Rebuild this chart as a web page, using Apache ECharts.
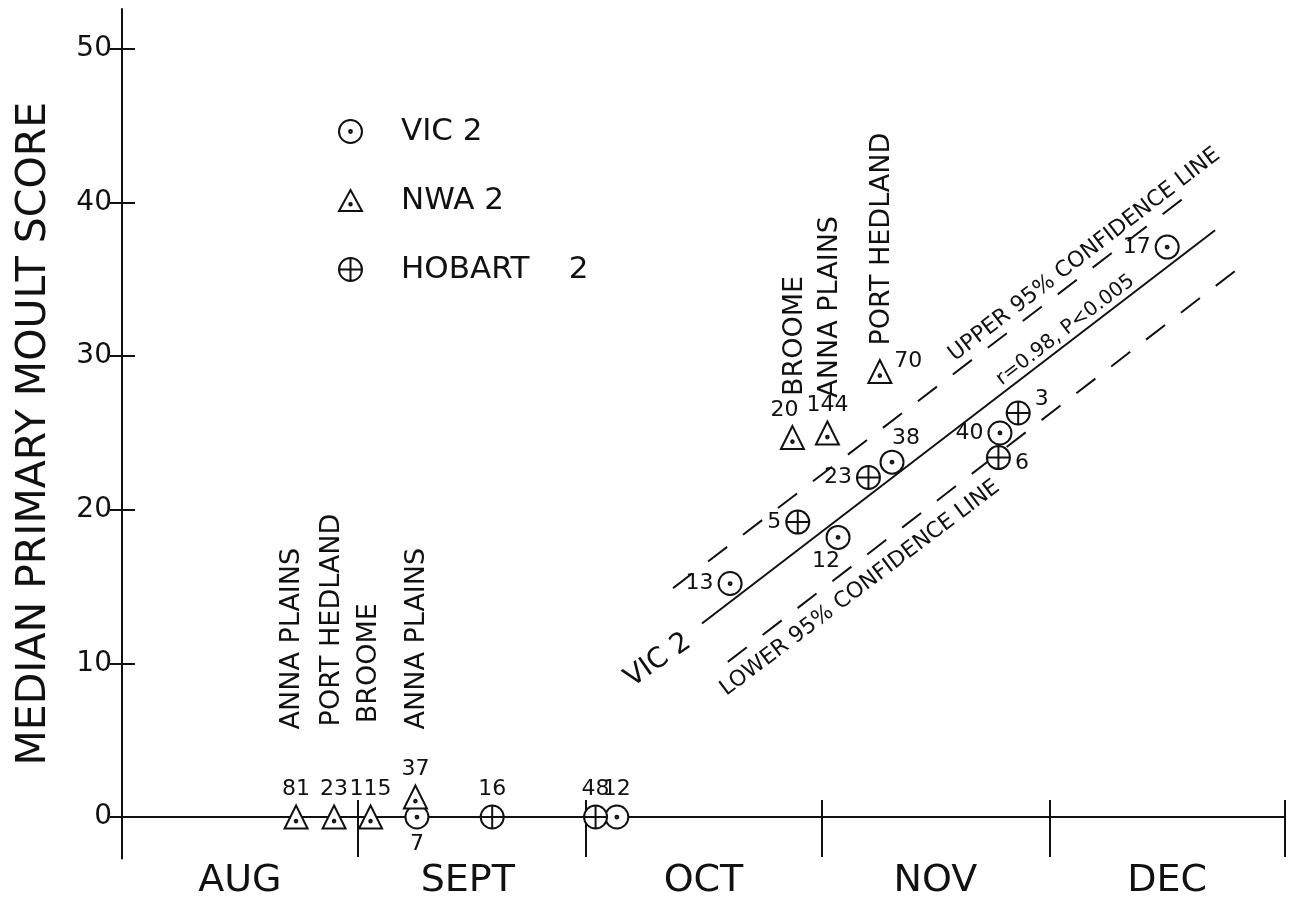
<!DOCTYPE html>
<html><head><meta charset="utf-8">
<script src="https://cdn.jsdelivr.net/npm/echarts@6/dist/echarts.min.js"></script>
<style>html,body{margin:0;padding:0;background:#fff}#c{width:1289px;height:905px}</style>
</head><body><div id="c"></div>
<script>
// ---- data (x = days since 1 August, y = median primary moult score) ----
const monthNames = ['AUG', 'SEPT', 'OCT', 'NOV', 'DEC'];
const monthStarts = [0, 31, 61, 92, 122, 153];
const monthMids = [15.5, 45.5, 76.5, 107, 137.5];
const yTicks = [0, 10, 20, 30, 40, 50];

// [day, score, sample size]
const vic2 = [[38.8, 0, 7], [65.1, 0, 12], [80.0, 15.2, 13], [94.2, 18.2, 12], [101.3, 23.1, 38], [115.5, 25.0, 40], [137.5, 37.1, 17]];
const nwa2 = [[22.9, 0, 81], [27.9, 0, 23], [32.7, 0, 115], [38.6, 1.3, 37], [88.2, 24.7, 20], [92.8, 25.0, 144], [99.7, 29.0, 70]];
const hobart2 = [[48.7, 0, 16], [62.3, 0, 48], [88.9, 19.2, 5], [98.2, 22.1, 23], [117.9, 26.3, 3], [115.3, 23.4, 6]];

const upper95 = [[72.5, 14.9], [140.5, 40.6]];
const fitLine = [[76.3, 12.6], [143.8, 38.2]];
const lower95 = [[79.7, 10.1], [147.1, 35.8]];

// locality names (anchor = bottom of vertical text)
const placeNames = [
  [22.4, 5.7, 'ANNA PLAINS'], [27.6, 5.9, 'PORT HEDLAND'], [32.5, 6.1, 'BROOME'], [38.8, 5.7, 'ANNA PLAINS'],
  [88.6, 27.4, 'BROOME'], [93.2, 27.3, 'ANNA PLAINS'], [100.0, 30.7, 'PORT HEDLAND']
];
// notes along the lines (anchor = centre of text)
const lineNotes = [
  [126.6, 36.6, 'UPPER 95% CONFIDENCE LINE'],
  [124.1, 31.7, 'r=0.98, P<0.005'],
  [70.5, 10.2, 'VIC 2'],
  [97.1, 14.9, 'LOWER 95% CONFIDENCE LINE']
];

// ---- styles ----
const FONT = 'DejaVu Sans';
const INK = '#111';
const lineNoteStyle = [{ size: 22, angle: 37.5 }, { size: 20, angle: 37.5 }, { size: 28, angle: 35 }, { size: 22, angle: 37 }];
const vicLabelStyle = [{ position: 'bottom' }, { position: 'top' }, { position: 'left' }, { position: 'bottom', offset: [-12, -4] }, { position: 'top', offset: [14, 4] }, { position: 'left' }, { position: 'left' }];
const nwaLabelStyle = [{ position: 'top' }, { position: 'top' }, { position: 'top' }, { position: 'top' }, { position: 'top', offset: [-8, 0] }, { position: 'top' }, { position: 'right', offset: [-2, -10] }];
const hobLabelStyle = [{ position: 'top' }, { position: 'top' }, { position: 'left' }, { position: 'left' }, { position: 'right', offset: [0, -14] }, { position: 'right', offset: [0, 6] }];

const circleP = 'M2,12A10,10 0 1,1 22,12A10,10 0 1,1 2,12Z';
const dotAt = (cx, cy) => `M${cx - 1.2},${cy}A1.2,1.2 0 1,1 ${cx + 1.2},${cy}A1.2,1.2 0 1,1 ${cx - 1.2},${cy}Z`;
const vicSymbol = 'path://' + circleP + dotAt(12, 12);
const nwaSymbol = 'path://M12,1L23,21L1,21Z' + dotAt(12, 14.5);
const hobSymbol = 'path://' + circleP + 'M12,2L12,22M2,12L22,12';

function pointSeries(name, data, symbol, labelStyles) {
  return {
    name, type: 'scatter', symbol, symbolSize: 23, z: 5,
    itemStyle: { color: '#fff', borderColor: INK, borderWidth: 2, opacity: 1 },
    data: data.map((d, i) => ({
      value: [d[0], d[1]],
      label: Object.assign({ show: true, formatter: String(d[2]), fontSize: 22, fontFamily: FONT, color: INK, distance: 4 }, labelStyles[i])
    }))
  };
}
function lineSeries(name, data, type) {
  return { name, type: 'line', data, symbol: 'none', silent: true, z: 3,
    lineStyle: { color: INK, width: 2, type } };
}
function textSeries(name, items, labelFor) {
  return {
    name, type: 'scatter', symbolSize: 0, silent: true, z: 6,
    itemStyle: { color: 'rgba(0,0,0,0)', opacity: 1 },
    data: items.map((p, i) => ({ value: [p[0], p[1]], label: labelFor(p, i) }))
  };
}

const chart = echarts.init(document.getElementById('c'), null, { renderer: 'canvas' });
chart.setOption({
  animation: false,
  backgroundColor: '#fff',
  grid: { left: 122, right: 4, top: 9, bottom: 46.5, outerBoundsMode: 'none', containLabel: false },
  legend: {
    data: ['VIC 2', 'NWA 2', 'HOBART 2'], orient: 'vertical', left: 338, top: 116, padding: 0,
    itemWidth: 23, itemHeight: 23, itemGap: 38, selectedMode: false,
    formatter: n => n === 'HOBART 2' ? 'HOBART    2' : n,
    textStyle: { fontFamily: FONT, fontSize: 31, color: INK, padding: [0, 0, 0, 34] }
  },
  xAxis: [{
    type: 'value', min: 0, max: 153,
    axisLine: { onZero: true, lineStyle: { color: INK, width: 2 } },
    axisTick: { show: true, customValues: monthStarts.slice(1), length: 40, lineStyle: { color: INK, width: 2 } },
    axisLabel: { customValues: monthMids, margin: 4, fontFamily: FONT, fontSize: 38, color: INK,
      formatter: v => monthNames[monthMids.indexOf(v)] || '' },
    splitLine: { show: false }
  }, {
    type: 'value', min: 0, max: 153, position: 'bottom',
    axisLine: { onZero: true, lineStyle: { color: INK, width: 2 } },
    axisTick: { show: true, inside: true, customValues: monthStarts.slice(1), length: 17, lineStyle: { color: INK, width: 2 } },
    axisLabel: { show: false }, splitLine: { show: false }
  }],
  yAxis: [{
    type: 'value', min: -2.7, max: 52.6,
    name: 'MEDIAN PRIMARY MOULT SCORE', nameLocation: 'middle', nameGap: 67,
    nameTextStyle: { fontFamily: FONT, fontSize: 41, color: INK },
    axisLine: { show: true, onZero: true, lineStyle: { color: INK, width: 2 } },
    axisTick: { show: true, customValues: yTicks, length: 12, lineStyle: { color: INK, width: 2 } },
    axisLabel: { customValues: yTicks, margin: 10, fontFamily: FONT, fontSize: 28, color: INK },
    splitLine: { show: false }
  }, {
    type: 'value', min: -2.7, max: 52.6, position: 'left',
    axisLine: { show: false },
    axisTick: { show: true, inside: true, customValues: yTicks, length: 13, lineStyle: { color: INK, width: 2 } },
    axisLabel: { show: false }, splitLine: { show: false }
  }],
  series: [
    lineSeries('upper', upper95, [24, 20]),
    lineSeries('fit', fitLine, 'solid'),
    lineSeries('lower', lower95, [24, 20]),
    pointSeries('VIC 2', vic2, vicSymbol, vicLabelStyle),
    pointSeries('NWA 2', nwa2, nwaSymbol, nwaLabelStyle),
    pointSeries('HOBART 2', hobart2, hobSymbol, hobLabelStyle),
    textSeries('places', placeNames, p => ({ show: true, position: 'inside', formatter: p[2], rotate: 90,
      align: 'left', verticalAlign: 'middle', fontFamily: FONT, fontSize: 27, color: INK })),
    textSeries('notes', lineNotes, (p, i) => ({ show: true, position: 'inside', formatter: p[2], rotate: lineNoteStyle[i].angle,
      align: 'center', verticalAlign: 'middle', fontFamily: FONT, fontSize: lineNoteStyle[i].size, color: INK }))
  ]
});
</script></body></html>
